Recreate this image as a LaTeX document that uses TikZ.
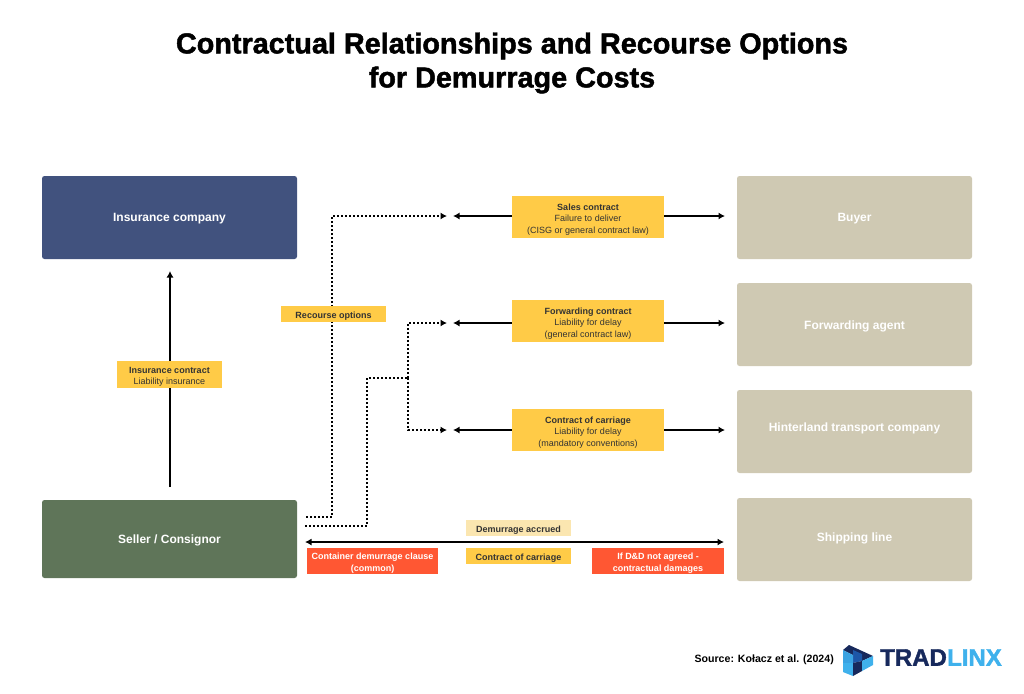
\documentclass[tikz,border=0pt]{standalone}
\usepackage{fontspec}
\setmainfont{Liberation Sans}
\newfontfamily\heavyfont[FakeBold=1.6]{Liberation Sans Bold}
\usepackage{xcolor}
\usetikzlibrary{arrows.meta}
\definecolor{Navy}{HTML}{41527E}
\definecolor{Moss}{HTML}{5F7559}
\definecolor{Sand}{HTML}{CFC9B3}
\definecolor{Amber}{HTML}{FFCB47}
\definecolor{PaleAmber}{HTML}{FBE6B0}
\definecolor{Flame}{HTML}{FF5733}
\definecolor{LogoDark}{HTML}{17295C}
\definecolor{LogoMid}{HTML}{1D57A8}
\definecolor{LogoLight}{HTML}{3FB1EC}
\newcommand{\padline}{\rule{0pt}{11pt}}
\tikzset{party/.style={rounded corners=2.5pt, text=white, font=\bfseries\fontsize{12}{14}\selectfont, inner sep=0pt, text depth=2.4pt, text height=#1},
	party/.default=11pt,
	tag/.style={fill=Amber, font=\fontsize{9}{11.5}\selectfont, align=center, inner sep=0pt, text=black!80},
	flag/.style={fill=Flame, text=white, font=\bfseries\fontsize{9}{12.5}\selectfont, align=center, inner sep=0pt},
	solidarrow/.style={line width=1.5pt, -{Latex[length=6.5pt,width=7pt]}},
	dotarrow/.style={line width=2pt, dash pattern=on 2pt off 2pt, -{Latex[length=6.5pt,width=7pt]}},
	dotline/.style={line width=2pt, dash pattern=on 2pt off 2pt}}
\begin{document}
\begin{tikzpicture}[x=1pt, y=-1pt]
	\useasboundingbox (0,0) rectangle (1024,693);

	\node[font=\heavyfont\fontsize{28.8}{34}\selectfont, align=center] (title) at (512,63) {Contractual Relationships and Recourse Options\\for Demurrage Costs};

	% left column
	\node[party=10pt, fill=Navy, minimum width=255pt, minimum height=83pt] (insurer) at (169.5,217.5) {Insurance company};
	\node[party, fill=Moss, minimum width=255pt, minimum height=78pt] (seller) at (169.5,539) {Seller / Consignor};

	% right column
	\node[party=10pt, fill=Sand, minimum width=235pt, minimum height=83pt] (buyer) at (854.5,217.5) {Buyer};
	\node[party=12pt, fill=Sand, minimum width=235pt, minimum height=83pt] (agent) at (854.5,324.5) {Forwarding agent};
	\node[party=2pt, fill=Sand, minimum width=235pt, minimum height=83pt] (hinterland) at (854.5,431.5) {Hinterland transport company};
	\node[party=6pt, fill=Sand, minimum width=235pt, minimum height=83pt] (line) at (854.5,539.5) {Shipping line};

	% contracts
	\node[tag, minimum width=152pt, minimum height=42pt] (sales) at (588,217) {\padline\textbf{Sales contract}\\Failure to deliver\\(CISG or general contract law)};
	\node[tag, minimum width=152pt, minimum height=42pt] (forwarding) at (588,321) {\padline\textbf{Forwarding contract}\\Liability for delay\\(general contract law)};
	\node[tag, minimum width=152pt, minimum height=42pt] (carriage) at (588,430) {\padline\textbf{Contract of carriage}\\Liability for delay\\(mandatory conventions)};

	\coordinate (salesend) at (453,216);
	\coordinate (forwardingend) at (453,323);
	\coordinate (carriageend) at (453,430);
	\coordinate (buyerend) at (725,216);
	\coordinate (agentend) at (725,323);
	\coordinate (hinterlandend) at (725,430);

	\draw[solidarrow] (sales.west |- salesend) -- (salesend);
	\draw[solidarrow] (forwarding.west |- forwardingend) -- (forwardingend);
	\draw[solidarrow] (carriage.west |- carriageend) -- (carriageend);
	\draw[solidarrow] (sales.east |- buyerend) -- (buyerend);
	\draw[solidarrow] (forwarding.east |- agentend) -- (agentend);
	\draw[solidarrow] (carriage.east |- hinterlandend) -- (hinterlandend);

	\coordinate (coverstart) at (170,487);
	\coordinate (coverend) at (170,271);
	\draw[solidarrow] (coverstart) -- (coverend);
	\node[tag, minimum width=105pt, minimum height=27pt] (cover) at (169.5,374.5) {\padline\textbf{Insurance contract}\\Liability insurance};

	% recourse
	\coordinate (upperstart) at (306,517);
	\coordinate (lowerstart) at (305,526);
	\coordinate (upperend) at (447,216);
	\coordinate (midend) at (447,323);
	\coordinate (lowend) at (447,430);
	\coordinate (fork) at (408,378);
	\draw[dotarrow] (upperstart) -| (332,216) -- (upperend);
	\draw[dotline] (lowerstart) -| (367,378) -- (fork);
	\draw[dotarrow] (fork) |- (midend);
	\draw[dotarrow] (fork) |- (lowend);
	\node[tag, font=\bfseries\fontsize{9}{10.5}\selectfont, minimum width=105pt, minimum height=16pt] (recourse) at (333.5,314) {\padline Recourse options};

	% demurrage
	\coordinate (lineleft) at (305,542);
	\coordinate (lineright) at (724,542);
	\draw[line width=1.5pt, {Latex[length=6.5pt,width=7pt]}-{Latex[length=6.5pt,width=7pt]}] (lineleft) -- (lineright);
	\node[tag, fill=PaleAmber, font=\bfseries\fontsize{9}{10.5}\selectfont, minimum width=105pt, minimum height=16pt] (accrued) at (518.5,528) {\padline Demurrage accrued};
	\node[tag, font=\bfseries\fontsize{9}{10.5}\selectfont, minimum width=105pt, minimum height=16pt] (carriagebar) at (518.5,556) {\padline Contract of carriage};
	\node[flag, minimum width=131pt, minimum height=26pt] (clause) at (372.5,561) {\padline Container demurrage clause\\(common)};
	\node[flag, minimum width=132pt, minimum height=26pt] (damages) at (658,561) {\padline If D\&D not agreed -\\contractual damages};

	% footer
	\node[font=\bfseries\fontsize{10.6}{12}\selectfont, anchor=east, inner sep=0pt] (source) at (834,660) {Source: Kołacz et al. (2024)};
	\fill[LogoDark] (843,650) -- (849,645) -- (873,656) -- (862,661) -- (853,655) -- cycle;
	\fill[LogoMid] (853,650) -- (862,654) -- (862,661) -- (853,663) -- cycle;
	\fill[LogoLight!85!LogoMid] (843,650) -- (853,655) -- (853,663) -- (843,663) -- cycle;
	\fill[LogoLight] (843,663) -- (853,663) -- (853,676) -- (843,672) -- cycle;
	\fill[LogoDark] (853,663) -- (862,661) -- (862,671) -- (853,676) -- cycle;
	\fill[LogoLight] (862,661) -- (873,656) -- (873,665) -- (862,671) -- cycle;
	\node[font=\heavyfont\fontsize{24}{26}\selectfont, text=LogoDark, anchor=west, inner sep=0pt] (trad) at (880,657.5) {TRAD};
	\node[font=\heavyfont\fontsize{24}{26}\selectfont, text=LogoLight, anchor=east, inner sep=0pt] (linx) at (1002,657.5) {LINX};
\end{tikzpicture}
\end{document}
